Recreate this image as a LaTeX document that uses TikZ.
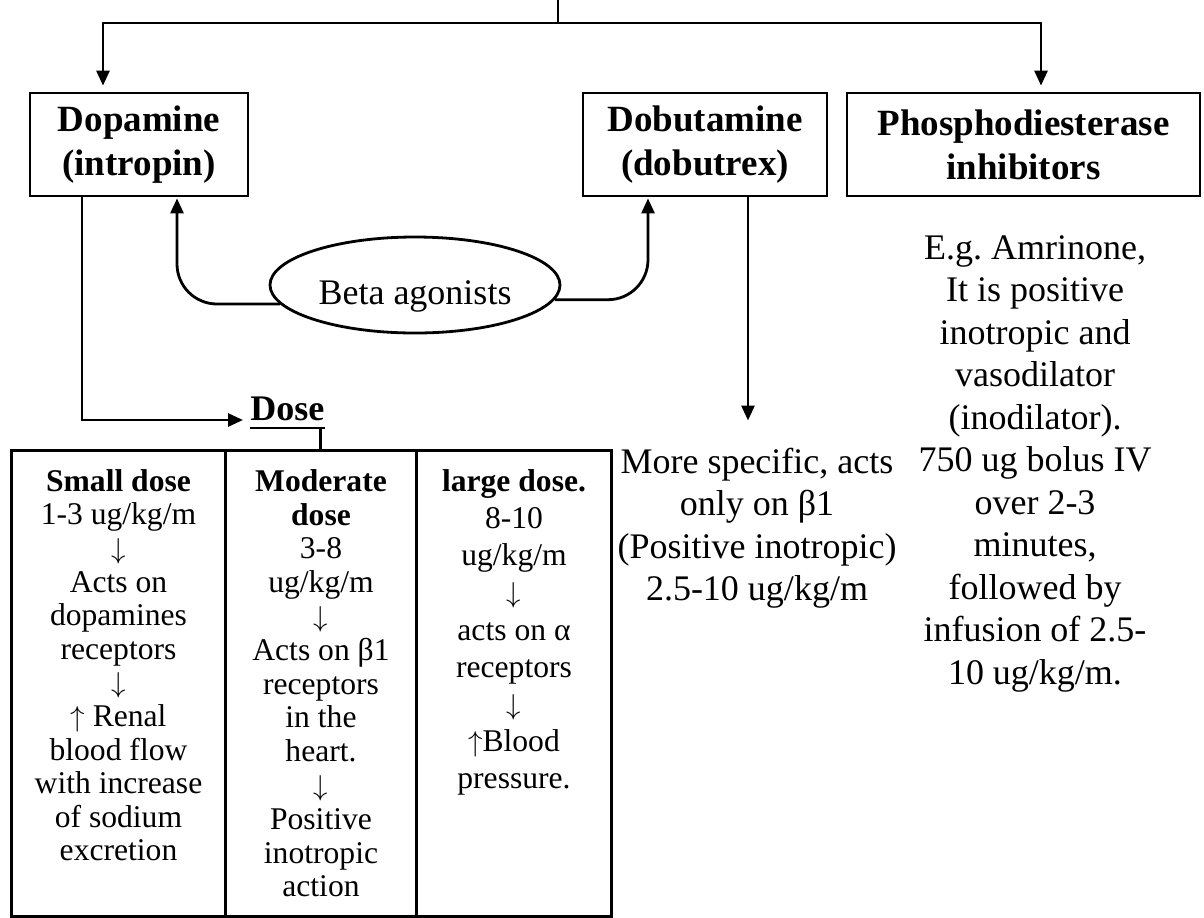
\documentclass[tikz,border=0pt]{standalone}
\usepackage{fontspec}
\setmainfont{Liberation Serif}
\usetikzlibrary{arrows.meta,shapes.geometric}
\frenchspacing
\begin{document}
\begin{tikzpicture}[x=0.5pt,y=-0.5pt,
		drug/.style={draw,line width=1.4pt,align=center,inner sep=0pt,minimum height=51.5pt,font=\fontsize{18.5}{22}\selectfont\bfseries},
		arr/.style={line width=1.4pt,-{Triangle[length=7.5pt,width=6.5pt]},shorten >=3pt},
		link/.style={line width=1.4pt},
		dosecol/.style={draw,line width=1.5pt,minimum height=233pt,anchor=north west,inner sep=0pt},
		dosetext/.style={anchor=north,align=center,inner sep=0pt,yshift=-10pt},
		note/.style={anchor=north,align=center,inner sep=0pt,font=\fontsize{18}{21.25}\selectfont}]
		\useasboundingbox (0,0) rectangle (1204,917);
		\node [drug,minimum width=109pt] (dopa) at (139,144.5) {Dopamine\\(intropin)};
		\node [drug,minimum width=122pt] (dobu) at (705,144.5) {Dobutamine\\(dobutrex)};
		\node [drug,minimum width=176.5pt] (pde) at (1023.5,144.5) {Phosphodiesterase\\inhibitors};
		\coordinate (top) at (558,0);
		\coordinate (fork) at (558,23);
		\draw [link] (top) -- (fork);
		\draw [arr] (fork) -| ([xshift=-18pt]dopa.north);
		\draw [arr] (fork) -| ([xshift=8.75pt]pde.north);
		\node [ellipse,draw,line width=1.4pt,minimum width=145pt,minimum height=48pt,inner sep=0pt,text height=19pt,text depth=0pt,font=\fontsize{18}{21}\selectfont] (beta) at (415,285) {Beta agonists};
		\draw [arr,rounded corners=20pt,shorten >=0.5pt] (beta.188) -| ([xshift=19pt]dopa.south);
		\draw [arr,rounded corners=20pt,shorten >=0.5pt] (beta.-6) -| ([xshift=-28.5pt]dobu.south);
		\node [note] (dobutext) at (757,447.5) {More specific, acts\\only on β1\\(Positive inotropic)\\2.5-10 ug/kg/m};
		\draw [arr,shorten >=13.5pt] ([xshift=21.5pt]dobu.south) -- ([xshift=21.5pt]dobu.south |- dobutext.north);
		\node [note] (pdetext) at (1035,235) {E.g. Amrinone,\\It is positive\\inotropic and\\vasodilator\\(inodilator).\\750 ug bolus IV\\over 2-3\\minutes,\\followed by\\infusion of 2.5-\\10 ug/kg/m.};
		\node [anchor=base west,inner xsep=0pt,inner ysep=3.5pt,font=\fontsize{18}{21}\selectfont\bfseries] (dose) at (250,420) {Dose};
		\draw [arr,shorten >=3.5pt] ([xshift=-28.5pt]dopa.south) |- (dose.base west);
		\draw [line width=1.2pt] (dose.south west) -- (dose.south east);
		\node [dosecol,minimum width=107pt] (smallcol) at (10,449) {};
		\node [dosecol,minimum width=95.5pt] (modcol) at (224,449) {};
		\node [dosecol,minimum width=97.5pt] (largecol) at (415,449) {};
		\draw [link] ([xshift=-2pt]dose.south east) -- ([xshift=-2pt]dose.south east |- modcol.north);
		\node [dosetext,font=\fontsize{15.8}{16.8}\selectfont] (smalltext) at (smallcol.north) {\textbf{Small dose}\\1-3 ug/kg/m\\$\downarrow$\\Acts on\\dopamines\\receptors\\$\downarrow$\\$\uparrow$ Renal\\blood flow\\with increase\\of sodium\\excretion};
		\node [dosetext,font=\fontsize{15.8}{16.9}\selectfont] (modtext) at (modcol.north) {\textbf{Moderate}\\\textbf{dose}\\3-8\\ug/kg/m\\$\downarrow$\\Acts on β1\\receptors\\in the\\heart.\\$\downarrow$\\Positive\\inotropic\\action};
		\node [dosetext,font=\fontsize{15.8}{18.6}\selectfont] (largetext) at (largecol.north) {\textbf{large dose.}\\8-10\\ug/kg/m\\$\downarrow$\\acts on α\\receptors\\$\downarrow$\\$\uparrow$Blood\\pressure.};
	\end{tikzpicture}
\end{document}
